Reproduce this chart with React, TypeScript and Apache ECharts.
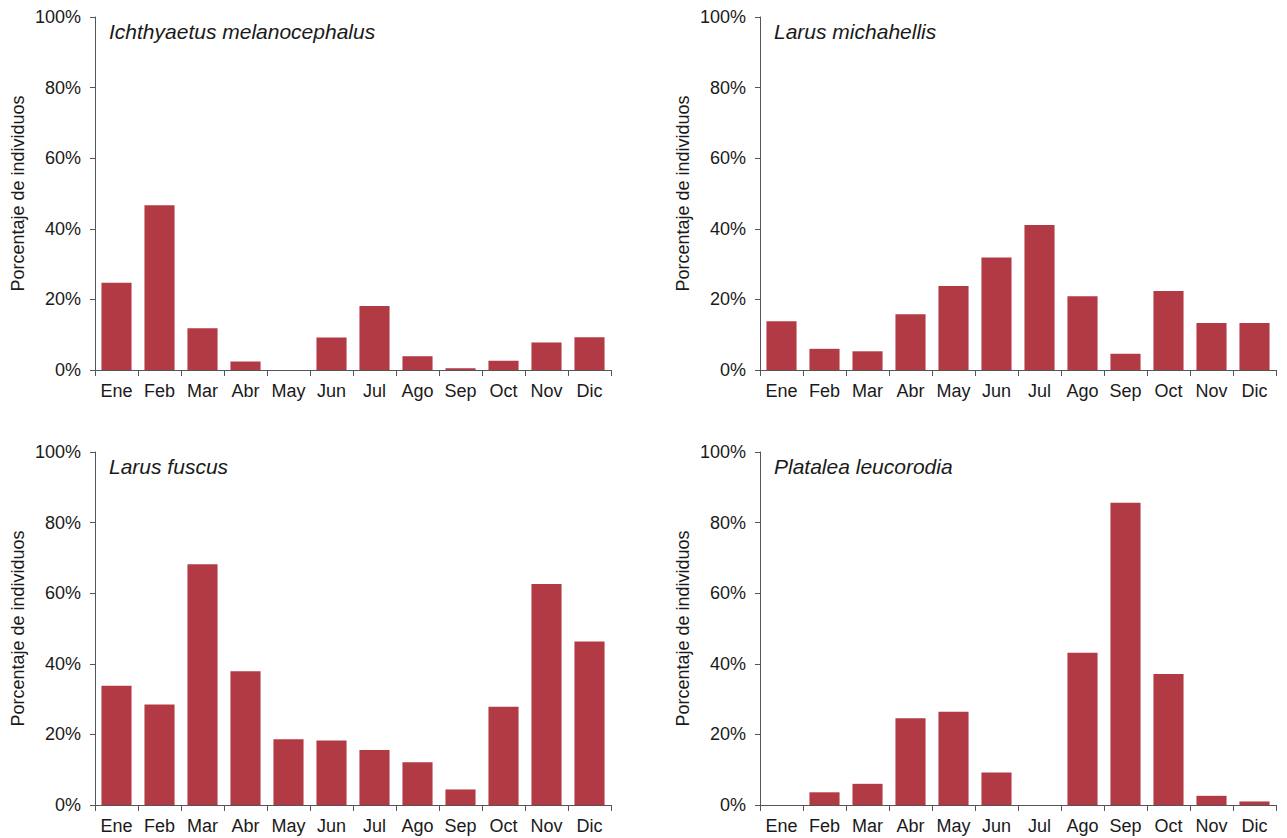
import React, { useEffect, useRef } from "react";
import * as echarts from "echarts";

const months = ["Ene", "Feb", "Mar", "Abr", "May", "Jun", "Jul", "Ago", "Sep", "Oct", "Nov", "Dic"];
const yTicks = [0, 20, 40, 60, 80, 100];

const species = [
  "Ichthyaetus melanocephalus",
  "Larus michahellis",
  "Larus fuscus",
  "Platalea leucorodia",
];

const melanocephalus = [24.7, 46.7, 11.8, 2.4, 0, 9.2, 18.1, 3.9, 0.5, 2.6, 7.8, 9.3];
const michahellis = [13.8, 6.0, 5.3, 15.8, 23.8, 31.9, 41.1, 20.9, 4.6, 22.4, 13.3, 13.3];
const fuscus = [33.8, 28.5, 68.2, 37.9, 18.6, 18.3, 15.6, 12.1, 4.4, 27.8, 62.6, 46.3];
const leucorodia = [0, 3.6, 6.0, 24.6, 26.4, 9.2, 0, 43.1, 85.6, 37.1, 2.6, 1.0];

const panelValues = [melanocephalus, michahellis, fuscus, leucorodia];

const FONT = "'Liberation Sans', Arial, Helvetica, sans-serif";
const AXIS_COLOR = "#555555";
const TEXT_COLOR = "#1a1a1a";
const BAR_COLOR = "#b23a44";

// panel layout: left/top offsets of each plot area
const panels = [
  { left: 95, top: 17 },
  { left: 760, top: 17 },
  { left: 95, top: 452 },
  { left: 760, top: 452 },
];
const PLOT_W = 516;
const PLOT_H = 353;

export default function App() {
  const ref = useRef<HTMLDivElement>(null);

  useEffect(() => {
    if (!ref.current) return;
    const chart = echarts.init(ref.current, undefined, { renderer: "svg" });

    const grid = panels.map((p) => ({
      left: p.left,
      top: p.top,
      width: PLOT_W,
      height: PLOT_H,
      containLabel: false,
    }));

    const xAxis = panels.map((_, i) => ({
      type: "category",
      gridIndex: i,
      data: months,
      boundaryGap: true,
      axisLine: { show: true, lineStyle: { color: AXIS_COLOR, width: 1 } },
      axisTick: { show: true, alignWithLabel: false, interval: 0, length: 6, lineStyle: { color: AXIS_COLOR } },
      axisLabel: { interval: 0, margin: 12, fontSize: 18, color: TEXT_COLOR, fontFamily: FONT },
      splitLine: { show: false },
    }));

    const yAxis = panels.map((_, i) => ({
      type: "value",
      gridIndex: i,
      min: yTicks[0],
      max: yTicks[yTicks.length - 1],
      interval: 20,
      name: "Porcentaje de individuos",
      nameLocation: "middle",
      nameGap: 68,
      nameRotate: 90,
      nameTextStyle: { fontSize: 18, color: TEXT_COLOR, fontFamily: FONT },
      axisLine: { show: true, lineStyle: { color: AXIS_COLOR, width: 1 } },
      axisTick: { show: true, length: 5, lineStyle: { color: AXIS_COLOR } },
      axisLabel: { formatter: "{value}%", margin: 14, fontSize: 18, color: TEXT_COLOR, fontFamily: FONT },
      splitLine: { show: false },
    }));

    const series = panelValues.map((vals, i) => ({
      type: "bar",
      xAxisIndex: i,
      yAxisIndex: i,
      data: vals,
      barCategoryGap: "30%",
      itemStyle: { color: BAR_COLOR },
    }));

    const title = species.map((name, i) => ({
      text: name,
      left: panels[i].left + 14,
      top: panels[i].top + 4,
      padding: 0,
      textStyle: {
        fontStyle: "italic",
        fontWeight: "normal",
        fontSize: 21,
        color: TEXT_COLOR,
        fontFamily: FONT,
      },
    }));

    chart.setOption({
      animation: false,
      backgroundColor: "#ffffff",
      title,
      grid,
      xAxis,
      yAxis,
      series,
    } as any);

    return () => chart.dispose();
  }, []);

  return (
    <div
      ref={ref}
      style={{ position: "fixed", left: 0, top: 0, width: 1287, height: 838, background: "#fff" }}
    />
  );
}
